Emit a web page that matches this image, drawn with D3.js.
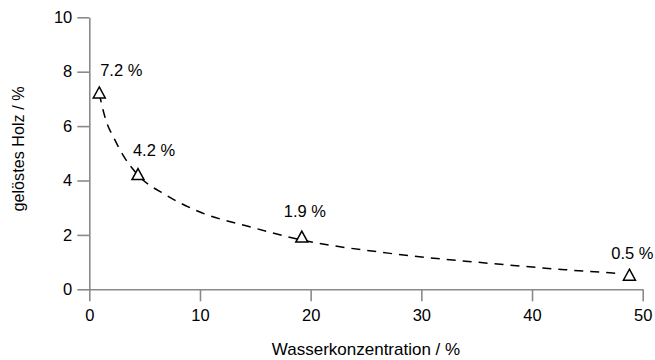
<!DOCTYPE html>
<html>
<head>
<meta charset="utf-8">
<script src="https://cdn.jsdelivr.net/npm/d3@7"></script>
<style>
  html, body { margin: 0; padding: 0; background: #fff; }
  svg { display: block; font-family: "Liberation Sans", Arial, sans-serif; }
</style>
</head>
<body>
<svg id="chart" width="655" height="360"></svg>
<script>
// Measured points
const waterConc = [0.9, 4.4, 19.2, 48.8];
const dissolvedWood = [7.2, 4.2, 1.9, 0.5];
const pointLabels = ["7.2 %", "4.2 %", "1.9 %", "0.5 %"];

// Dashed trend curve
const curveX = [0.9, 1.4, 2.3, 3.1, 4.4, 7, 10, 14.5, 19, 27, 36, 43, 48];
const curveY = [7.2, 6.35, 5.5, 4.9, 4.2, 3.45, 2.84, 2.3, 1.83, 1.33, 0.96, 0.72, 0.58];

const xTicks = [0, 10, 20, 30, 40, 50];
const yTicks = [0, 2, 4, 6, 8, 10];
const xTitle = "Wasserkonzentration / %";
const yTitle = "gelöstes Holz / %";

const svg = d3.select("#chart");
const x = d3.scaleLinear().domain([0, 50]).range([89.3, 642.7]);
const y = d3.scaleLinear().domain([0, 10]).range([289.3, 17.3]);

const axisColor = "#8a8a8a";

const gx = svg.append("g")
  .attr("transform", `translate(0,${y(0)})`)
  .call(d3.axisBottom(x).tickValues(xTicks).tickSize(12).tickSizeOuter(0).tickPadding(8));
const gy = svg.append("g")
  .attr("transform", `translate(${x(0)},0)`)
  .call(d3.axisLeft(y).tickValues(yTicks).tickSize(12).tickSizeOuter(0).tickPadding(5));

[gx, gy].forEach(g => {
  g.select(".domain").attr("stroke", axisColor).attr("stroke-width", 1.6);
  g.selectAll(".tick line").attr("stroke", axisColor).attr("stroke-width", 1.6);
  g.selectAll(".tick text").attr("fill", "#000").style("font-size", "16.5px")
    .style("font-family", "'Liberation Sans', Arial, sans-serif");
});

// Curve
const line = d3.line().x(d => x(d[0])).y(d => y(d[1])).curve(d3.curveMonotoneX);
svg.append("path")
  .datum(curveX.map((v, i) => [v, curveY[i]]))
  .attr("d", line)
  .attr("fill", "none")
  .attr("stroke", "#000")
  .attr("stroke-width", 1.5)
  .attr("stroke-dasharray", "9,7");

// Triangles
const pts = waterConc.map((v, i) => ({x: v, y: dissolvedWood[i], label: pointLabels[i]}));
svg.selectAll("path.tri").data(pts).enter().append("path")
  .attr("class", "tri")
  .attr("transform", d => `translate(${x(d.x)},${y(d.y)})`)
  .attr("d", "M0,-6.5 L6,4.5 L-6,4.5 Z")
  .attr("fill", "#fff")
  .attr("stroke", "#000")
  .attr("stroke-width", 1.5);

// Labels (offsets relative to each marker)
const labelShift = [[22, -17], [16, -19], [3, -21], [3, -17]];
svg.selectAll("text.lbl").data(pts).enter().append("text")
  .attr("class", "lbl")
  .attr("x", (d, i) => x(d.x) + labelShift[i][0])
  .attr("y", (d, i) => y(d.y) + labelShift[i][1])
  .attr("text-anchor", "middle")
  .style("font-size", "16.5px")
  .text(d => d.label);

// Axis titles
svg.append("text")
  .attr("x", (x(0) + x(50)) / 2)
  .attr("y", 355)
  .attr("text-anchor", "middle")
  .style("font-size", "17px")
  .text(xTitle);

svg.append("text")
  .attr("transform", `translate(24,149) rotate(-90)`)
  .attr("text-anchor", "middle")
  .style("font-size", "16.2px")
  .text(yTitle);
</script>
</body>
</html>
